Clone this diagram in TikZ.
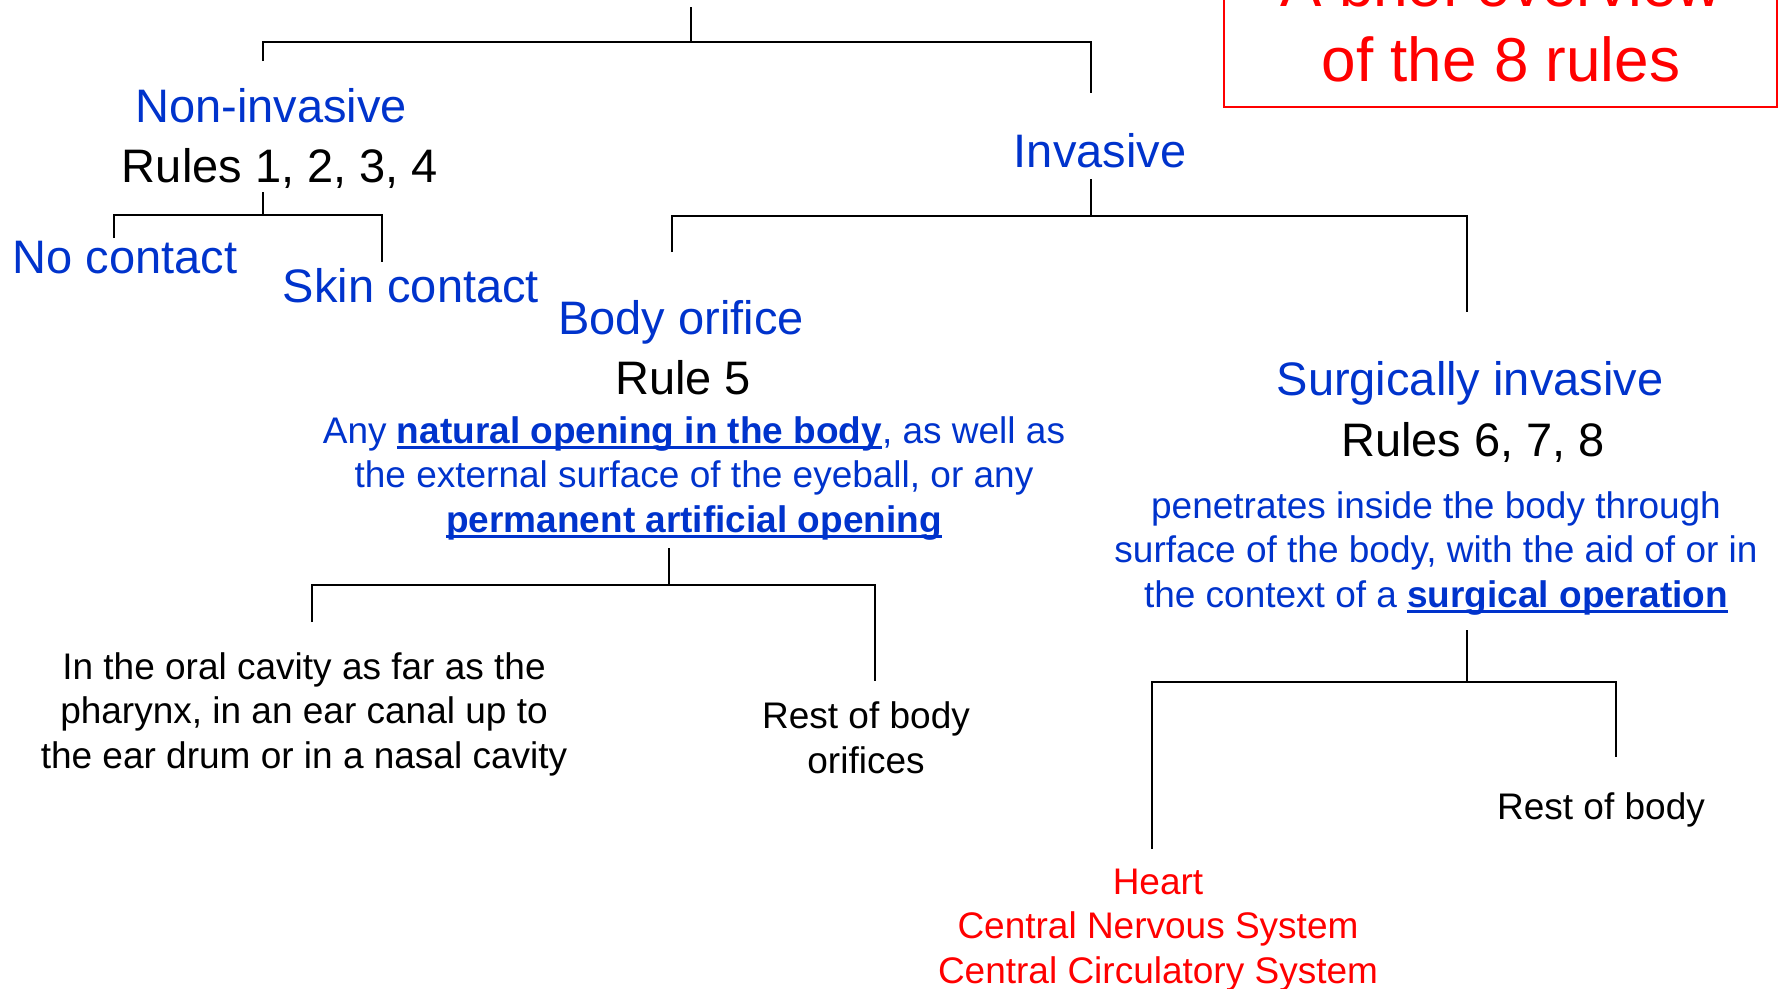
\documentclass[tikz,border=0pt]{standalone}
\usepackage{fontspec}
\setmainfont{Liberation Sans}
\usepackage{tikz}
\usetikzlibrary{positioning}
\definecolor{mdblue}{RGB}{0,51,204}
\definecolor{mdred}{RGB}{255,0,0}
\newcommand{\BL}[1]{\textcolor{mdblue}{#1}}
\newcommand{\UL}[1]{\setbox0\hbox{\bfseries #1}\rlap{\rule[-6pt]{\wd0}{2.6pt}}\box0}

\begin{document}
\begin{tikzpicture}[x=1pt, y=-1pt, line width=2pt,
  big/.style={inner sep=0pt, anchor=base, font=\fontsize{47}{58}\selectfont},
  small/.style={inner sep=0pt, anchor=base, align=center, font=\fontsize{37}{44.5}\selectfont}]

  \useasboundingbox (0,0) rectangle (1779,988);

  % title, cut off at the top of the page (base = last line)
  \node[inner sep=0pt, anchor=base, align=center, text=mdred,
        font=\fontsize{62}{75}\selectfont] (title) at (1501,81) {A brief overview\\of the 8 rules};
  \draw[mdred] (1224,-40) rectangle (1777,107);

  % first level
  \node[big] (noninv) at (271,122) {\BL{Non-invasive}};
  \node[big] (rulesA) at (280,182) {Rules 1, 2, 3, 4};
  \node[big] (inv) at (1100,167) {\BL{Invasive}};

  \node[big] (nocontact) at (125,273) {\BL{No contact}};
  \node[big] (skin) at (411,302) {\BL{Skin contact}};

  % body orifice
  \node[big] (orifice) at (681,334) {\BL{Body orifice}};
  \node[big] (rule5) at (683,394) {Rule 5};
  \node[small, text=mdblue] (orificetxt) at (694,532)
    {Any \UL{natural opening in the body}, as well as\\
     the external surface of the eyeball, or any\\
     \UL{permanent artificial opening}};
  \node[small] (oral) at (304,768)
    {In the oral cavity as far as the\\pharynx, in an ear canal up to\\the ear drum or in a nasal cavity};
  \node[small] (restorif) at (866,773) {Rest of body\\orifices};

  % surgically invasive
  \node[big] (surg) at (1470,395) {\BL{Surgically invasive}};
  \node[big] (rulesB) at (1473,456) {Rules 6, 7, 8};
  \node[small, text=mdblue] (surgtxt) at (1436,607)
    {penetrates inside the body through\\
     surface of the body, with the aid of or in\\
     the context of a \UL{surgical operation}};
  \node[small, text=mdred] (organs) at (1158,983)
    {Heart\\Central Nervous System\\Central Circulatory System};
  \node[small] (restbody) at (1601,819) {Rest of body};

  % stems and drops
  \coordinate (root) at (691,7);
  \coordinate (noninv-in) at (263,61);
  \coordinate (inv-in) at (1091,93);
  \coordinate (rulesA-out) at (263,192);
  \coordinate (nocontact-in) at (114,238);
  \coordinate (skin-in) at (382,262);
  \coordinate (inv-out) at (1091,179);
  \coordinate (orifice-in) at (672,252);
  \coordinate (surg-in) at (1467,312);
  \coordinate (orificetxt-out) at (669,548);
  \coordinate (oral-in) at (312,622);
  \coordinate (restorif-in) at (875,681);
  \coordinate (surgtxt-out) at (1467,630);
  \coordinate (organs-in) at (1152,849);
  \coordinate (restbody-in) at (1616,757);

  \draw (root) -- ++(0,35) coordinate (j0);
  \draw (noninv-in) |- (j0) -| (inv-in); % non-invasive / invasive

  \draw (rulesA-out) -- ++(0,23) coordinate (j1);
  \draw (nocontact-in) |- (j1) -| (skin-in); % no contact / skin contact

  \draw (inv-out) -- ++(0,37) coordinate (j2);
  \draw (orifice-in) |- (j2) -| (surg-in); % body orifice / surgical

  \draw (orificetxt-out) -- ++(0,37) coordinate (j3);
  \draw (oral-in) |- (j3) -| (restorif-in); % oral cavity / rest of orifices

  \draw (surgtxt-out) -- ++(0,52) coordinate (j4);
  \draw (organs-in) |- (j4) -| (restbody-in); % organs / rest of body
\end{tikzpicture}
\end{document}
